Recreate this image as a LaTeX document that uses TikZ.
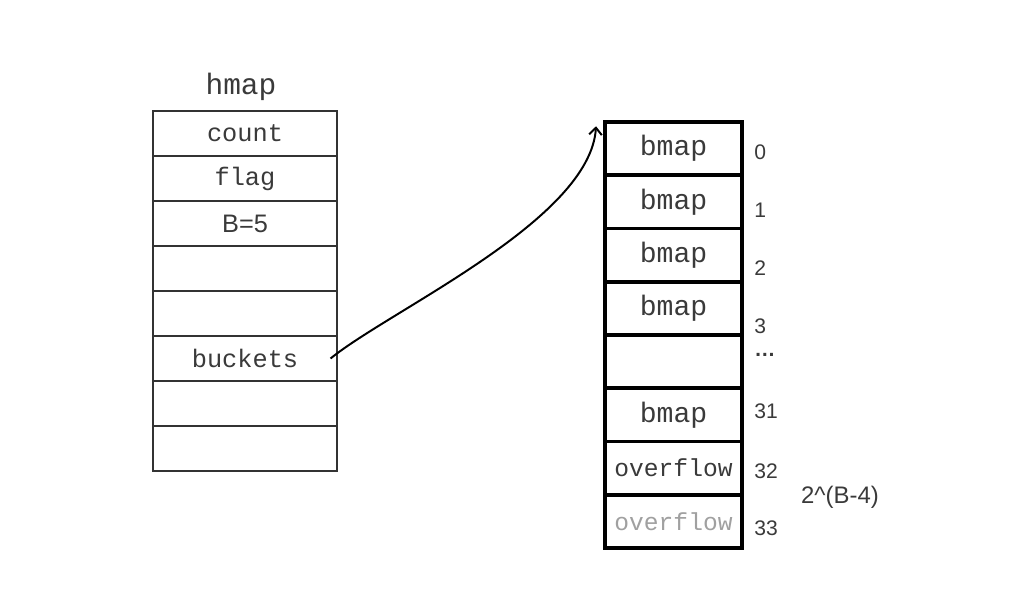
\documentclass[tikz,border=0pt]{standalone}
\usepackage{fontspec}
\setmainfont{Liberation Sans}
\setmonofont{Liberation Mono}
\usepackage{tikz}
\usetikzlibrary{arrows,arrows.meta,positioning}
\definecolor{inkgray}{HTML}{3A3A3A}
\definecolor{fadegray}{HTML}{A0A0A0}
\tikzstyle{hcell} = [rectangle, draw=black!80, line width=1pt, minimum width=4.6cm, minimum height=1.125cm, inner sep=0pt, text=inkgray, font=\fontsize{18}{20}\selectfont\ttfamily]
\tikzstyle{bcell} = [rectangle, draw=black, line width=2.5pt, minimum width=3.425cm, minimum height=1.33cm, inner sep=0pt, text=inkgray, font=\fontsize{20}{22}\selectfont\ttfamily]
\tikzstyle{idx} = [anchor=west, inner sep=0pt, text=inkgray, font=\fontsize{15}{17}\selectfont]
\tikzstyle{arrow} = [line width=1.4pt,-{Straight Barb[length=5pt,width=9pt]}]

\begin{document}
\begin{tikzpicture}[x=0.025cm, y=-0.025cm]
    \useasboundingbox (0,0) rectangle (1032,608);
    % hmap struct
    \node [text=inkgray, font=\fontsize{21}{23}\selectfont\ttfamily] (title) at (241,87) {hmap};
    \foreach \lbl [count=\i from 0] in {count,flag,{\rmfamily B=5},{},{},buckets,{},{}}
        \node [hcell] (hmap\i) at (245,133.5+45*\i) {\lbl};
    % buckets array
    \foreach \lbl [count=\i from 0] in {bmap,bmap,bmap,bmap,{},bmap,{\fontsize{17.5}{19}\selectfont overflow},{\fontsize{17.5}{19}\selectfont\color{fadegray}overflow}}
        \node [bcell] (bkt\i) at (673.5,148.6+53.25*\i) {\lbl};
    \foreach \ypos/\num [count=\i from 0] in {152/0,210/1,268/2,326/3,355/{\bfseries …},411/31,471/32,528/33}
        \node [idx] (num\i) at (754,\ypos) {\num};
    \node [text=inkgray, font=\fontsize{17}{19}\selectfont] (size) at (840,497) {2\^{}(B-4)};
    % pointer
    \coordinate (src) at ([xshift=-0.18cm]hmap5.east);
    \coordinate (dst) at ([xshift=-0.18cm,yshift=-0.15cm]bkt0.north west);
    \draw [arrow] (src) .. controls (390,310) and (590,220) .. (dst);
\end{tikzpicture}
\end{document}
